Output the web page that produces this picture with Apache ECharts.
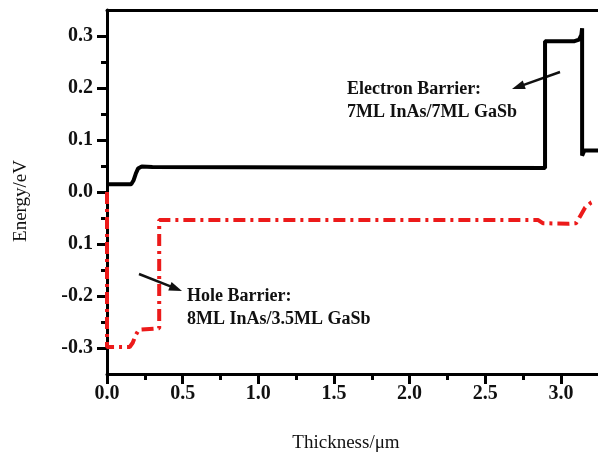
<!DOCTYPE html>
<html>
<head>
<meta charset="utf-8">
<script src="https://cdn.jsdelivr.net/npm/echarts@6/dist/echarts.min.js"></script>
<style>
  html, body { margin: 0; padding: 0; background: #fff; }
  #chart { width: 598px; height: 459px; }
</style>
</head>
<body>
<div id="chart"></div>
<script>
// conduction band (black) and valence band (red), [thickness um, energy eV]
const conductionBand = [
  [0, 0.015], [0.16, 0.015], [0.175, 0.022], [0.19, 0.035], [0.205, 0.045], [0.23, 0.049],
  [0.3, 0.048], [1.5, 0.047], [2.895, 0.046], [2.895, 0.29], [3.09, 0.29], [3.12, 0.293],
  [3.135, 0.302], [3.14, 0.315], [3.14, 0.07], [3.155, 0.08], [3.245, 0.08]
]
const valenceBand = [
  [0, 0.0], [0, -0.298], [0.15, -0.298], [0.17, -0.29], [0.19, -0.275], [0.21, -0.265],
  [0.345, -0.262], [0.345, -0.054], [2.85, -0.054], [2.88, -0.06], [3.05, -0.061],
  [3.1, -0.06], [3.13, -0.045], [3.16, -0.03], [3.2, -0.02], [3.23, -0.016]
]

const xTicks = [0, 0.5, 1.0, 1.5, 2.0, 2.5, 3.0]
const xMinorTicks = [0.25, 0.75, 1.25, 1.75, 2.25, 2.75]
const yTicks = [-0.3, -0.2, -0.1, 0.0, 0.1, 0.2, 0.3]
const yTickLabels = ['-0.3', '-0.2', '0.1', '0.0', '0.1', '0.2', '0.3']
const yMinorTicks = [-0.25, -0.15, -0.05, 0.05, 0.15, 0.25]

const SERIF = '"Liberation Serif", "Times New Roman", serif'
const AXIS_W = 3

const chart = echarts.init(document.getElementById('chart'))

function arrow(x1, y1, x2, y2) {
  // line from (x1,y1) with head at (x2,y2)
  const dx = x2 - x1, dy = y2 - y1
  const len = Math.sqrt(dx * dx + dy * dy)
  const ux = dx / len, uy = dy / len
  const hl = 13, hw = 4.5
  const bx = x2 - ux * hl, by = y2 - uy * hl
  return [
    { type: 'polyline', shape: { points: [[x1, y1], [bx + ux * 2, by + uy * 2]] }, style: { stroke: '#111', lineWidth: 2.5 } },
    { type: 'polygon', shape: { points: [[x2, y2], [bx - uy * hw, by + ux * hw], [bx + uy * hw, by - ux * hw]] }, style: { fill: '#111' } }
  ]
}

function label(text, x, y) {
  return {
    type: 'text', x, y,
    style: { text, font: 'bold 18px ' + SERIF, fill: '#111', verticalAlign: 'middle' }
  }
}

const majorTickStyle = { show: true, inside: false, length: 10, lineStyle: { color: '#000', width: AXIS_W } }
const minorTickStyle = { show: true, inside: false, length: 6, lineStyle: { color: '#000', width: AXIS_W } }

chart.setOption({
  animation: false,
  grid: { left: 107, right: 0, top: 10, bottom: 85, containLabel: false },
  xAxis: [
    {
      type: 'value', position: 'bottom', min: 0, max: 3.245,
      axisLine: { show: true, onZero: false, lineStyle: { color: '#000', width: AXIS_W } },
      axisTick: Object.assign({ customValues: xTicks }, majorTickStyle),
      axisLabel: {
        customValues: xTicks, margin: 10, color: '#111',
        fontFamily: SERIF, fontWeight: 'bold', fontSize: 20,
        formatter: v => v.toFixed(1)
      },
      splitLine: { show: false }
    },
    {
      type: 'value', position: 'bottom', offset: 0, min: 0, max: 3.245,
      axisLine: { show: false, onZero: false },
      axisTick: Object.assign({ customValues: xMinorTicks }, minorTickStyle),
      axisLabel: { show: false },
      splitLine: { show: false }
    },
    {
      type: 'value', position: 'top', min: 0, max: 3.245,
      axisLine: { show: true, onZero: false, lineStyle: { color: '#000', width: AXIS_W } },
      axisTick: { show: false }, axisLabel: { show: false }, splitLine: { show: false }
    }
  ],
  yAxis: [
    {
      type: 'value', position: 'left', min: -0.35, max: 0.35,
      axisLine: { show: true, onZero: false, lineStyle: { color: '#000', width: AXIS_W } },
      axisTick: Object.assign({ customValues: yTicks }, majorTickStyle),
      axisLabel: {
        customValues: yTicks, margin: 14, color: '#111',
        fontFamily: SERIF, fontWeight: 'bold', fontSize: 20,
        formatter: v => {
          const i = yTicks.findIndex(t => Math.abs(t - v) < 1e-6)
          return i >= 0 ? yTickLabels[i] : ''
        }
      },
      splitLine: { show: false }
    },
    {
      type: 'value', position: 'left', offset: 0, min: -0.35, max: 0.35,
      axisLine: { show: false, onZero: false },
      axisTick: Object.assign({ customValues: yMinorTicks }, minorTickStyle),
      axisLabel: { show: false },
      splitLine: { show: false }
    }
  ],
  series: [
    {
      type: 'line', xAxisIndex: 0, yAxisIndex: 0, data: valenceBand,
      showSymbol: false, symbol: 'none',
      lineStyle: { color: '#ec1a1a', width: 4, type: [12, 5, 3, 5] }
    },
    {
      type: 'line', xAxisIndex: 0, yAxisIndex: 0, data: conductionBand,
      showSymbol: false, symbol: 'none',
      lineStyle: { color: '#000', width: 4 }
    }
  ],
  graphic: [
    {
      type: 'text', x: 346, y: 443,
      style: { text: 'Thickness/μm', font: '19px ' + SERIF, fill: '#111', align: 'center', verticalAlign: 'middle' }
    },
    {
      type: 'text', x: 21, y: 201, rotation: Math.PI / 2,
      style: { text: 'Energy/eV', font: '19px ' + SERIF, fill: '#111', align: 'center', verticalAlign: 'middle' }
    },
    label('Electron Barrier:', 347, 89),
    label('7ML InAs/7ML GaSb', 347, 112),
    label('Hole Barrier:', 187, 296),
    label('8ML InAs/3.5ML GaSb', 187, 319),
    ...arrow(560, 72, 512, 89),
    ...arrow(139, 274, 182, 291)
  ]
})
</script>
</body>
</html>
